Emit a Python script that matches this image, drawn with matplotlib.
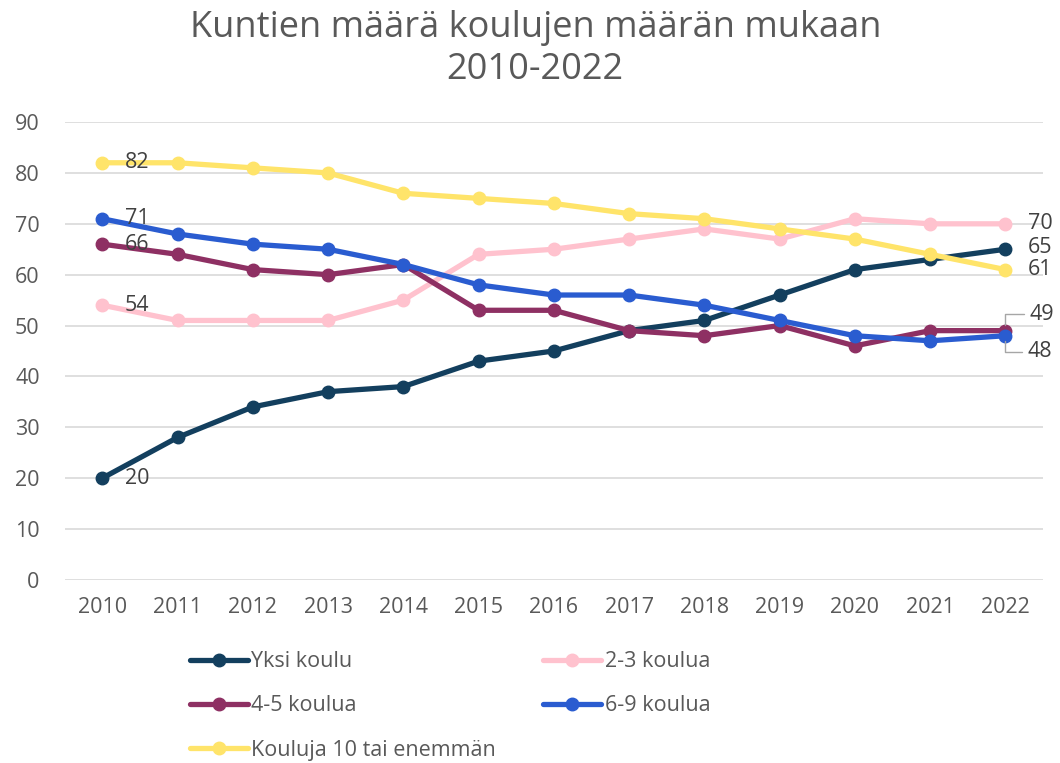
import matplotlib.pyplot as plt
import numpy as np

plt.rcParams['font.family'] = ['Open Sans', 'DejaVu Sans']

years = [2010, 2011, 2012, 2013, 2014, 2015, 2016, 2017, 2018, 2019, 2020, 2021, 2022]
yksi = [20, 28, 34, 37, 38, 43, 45, 49, 51, 56, 61, 63, 65]
k2_3 = [54, 51, 51, 51, 55, 64, 65, 67, 69, 67, 71, 70, 70]
k4_5 = [66, 64, 61, 60, 62, 53, 53, 49, 48, 50, 46, 49, 49]
k6_9 = [71, 68, 66, 65, 62, 58, 56, 56, 54, 51, 48, 47, 48]
k10 = [82, 82, 81, 80, 76, 75, 74, 72, 71, 69, 67, 64, 61]

names = ['Yksi koulu', '2-3 koulua', '4-5 koulua', '6-9 koulua', 'Kouluja 10 tai enemmän']
series = [yksi, k2_3, k4_5, k6_9, k10]
colors = ['#133F5E', '#FFC2CE', '#8E3063', '#2A5CD0', '#FFE46A']

txt = '#404040'
fs_lab = 15.5
fig = plt.figure(figsize=(10.6, 7.63), dpi=100)
ax = fig.add_axes([0.061, 0.24, 0.923, 0.60])

x = np.arange(len(years))
lines = []
for vals, name, c in zip(series, names, colors):
    ln, = ax.plot(x, vals, color=c, lw=3.8, marker='o', ms=9, label=name,
                  solid_capstyle='round', zorder=3)
    lines.append(ln)

# start labels
for vals in [yksi, k2_3, k4_5, k6_9, k10]:
    ax.text(x[0] + 0.3, vals[0], str(vals[0]), fontsize=fs_lab, color=txt,
            va='center', ha='left', zorder=5)

# end labels
for vals in [k2_3, k10]:
    ax.text(x[-1] + 0.3, vals[-1], str(vals[-1]), fontsize=fs_lab, color=txt,
            va='center', ha='left', zorder=5)
ax.text(x[-1] + 0.3, yksi[-1] + 0.3, str(yksi[-1]), fontsize=fs_lab, color=txt,
        va='center', ha='left', zorder=5)
ax.annotate(str(k4_5[-1]), xy=(x[-1], k4_5[-1]), xytext=(x[-1] + 0.32, k4_5[-1] + 3.2),
            fontsize=fs_lab, color=txt, va='center', ha='left',
            arrowprops=dict(arrowstyle='-', color='#A6A6A6', lw=1,
                            connectionstyle='angle,angleA=0,angleB=90,rad=0',
                            shrinkA=2, shrinkB=4))
ax.annotate(str(k6_9[-1]), xy=(x[-1], k6_9[-1]), xytext=(x[-1] + 0.3, k6_9[-1] - 3.2),
            fontsize=fs_lab, color=txt, va='center', ha='left',
            arrowprops=dict(arrowstyle='-', color='#A6A6A6', lw=1,
                            connectionstyle='angle,angleA=0,angleB=90,rad=0',
                            shrinkA=2, shrinkB=4))

ax.set_xlim(-0.5, 12.5)
ax.set_ylim(0, 90)
ax.set_yticks(range(0, 91, 10))
ax.set_xticks(x)
ax.set_xticklabels([str(y) for y in years])
ax.grid(axis='y', color='#D9D9D9', lw=1.2)
ax.set_axisbelow(True)
for s in ax.spines.values():
    s.set_visible(False)
ax.tick_params(length=0, labelsize=15.5, colors='#595959', pad=12)
ax.tick_params(axis='y', pad=18)

fig.text(0.505, 0.963, 'Kuntien määrä koulujen määrän mukaan', fontsize=26,
         color='#595959', ha='center', va='center')
fig.text(0.505, 0.908, '2010-2022', fontsize=26,
         color='#595959', ha='center', va='center')

order = [0, 2, 4, 1, 3]
fig.legend(handles=[lines[i] for i in order], labels=[names[i] for i in order],
           loc='upper left', bbox_to_anchor=(0.171, 0.158), ncol=2, frameon=False,
           fontsize=15.5, labelcolor='#595959', handlelength=2.7, handletextpad=0.15,
           columnspacing=2.2, labelspacing=1.08, borderaxespad=0)

fig.savefig('out.png', dpi=100)
